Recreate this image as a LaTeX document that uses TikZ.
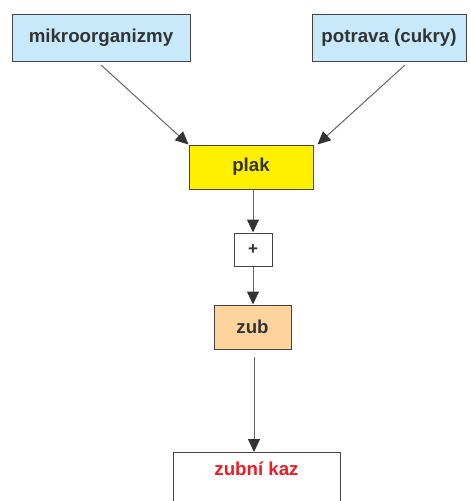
\documentclass[tikz,border=0pt]{standalone}
\usepackage{fontspec}
\setmainfont{Liberation Sans}
\usetikzlibrary{arrows.meta}
\definecolor{txt}{HTML}{333333}
\definecolor{bord}{HTML}{444444}
\definecolor{lblue}{HTML}{C8E9F9}
\definecolor{lyel}{HTML}{FFF000}
\definecolor{lpeach}{HTML}{FFD39C}
\definecolor{kazred}{HTML}{EE1C25}
\definecolor{linegray}{HTML}{666666}
\tikzset{
  box/.style={draw=bord, line width=1pt, rectangle, inner sep=0pt, text=txt,
    font=\bfseries\fontsize{18.7}{22}\selectfont},
  conn/.style={draw=linegray, line width=1pt,
    -{Triangle[length=13pt,width=12pt,fill=txt,color=txt]}},
}
\begin{document}
\begin{tikzpicture}[x=1pt,y=-1pt]
\useasboundingbox (0,0) rectangle (470,501);
\clip (0,0) rectangle (470,501);
\node[box, fill=lblue, minimum width=178pt, minimum height=47pt] (mik) at (101,37.5) {mikroorganizmy};
\node[box, fill=lblue, minimum width=154pt, minimum height=47pt] (pot) at (389,37.5) {potrava (cukry)};
\node[box, fill=lyel, minimum width=124pt, minimum height=44pt] (plak) at (251,167) {plak};
\node[box, fill=white, minimum width=38pt, minimum height=33pt, font=\bfseries\fontsize{17}{20}\selectfont] (plus) at (253,249.5) {+};
\node[box, fill=lpeach, minimum width=77pt, minimum height=44pt] (zub) at (252.5,327) {zub};
\node[box, fill=white, minimum width=167pt, minimum height=80pt, anchor=north] (kaz) at (256.5,452) {};
\node[text=kazred, font=\bfseries\fontsize{18.7}{22}\selectfont] (kazt) at (256.5,469) {zubní kaz};
\coordinate (mikS) at (101,65);
\coordinate (potS) at (405,65);
\coordinate (zubS) at (254,357);
\draw[conn] (mikS) -- (plak.north west);
\draw[conn] (potS) -- ([xshift=4pt]plak.north east);
\draw[conn] (plak.south -| plus.north) -- (plus.north);
\draw[conn] (plus.south) -- (zub.north -| plus.south);
\draw[conn] (zubS) -- (kaz.north -| zubS);
\end{tikzpicture}
\end{document}
